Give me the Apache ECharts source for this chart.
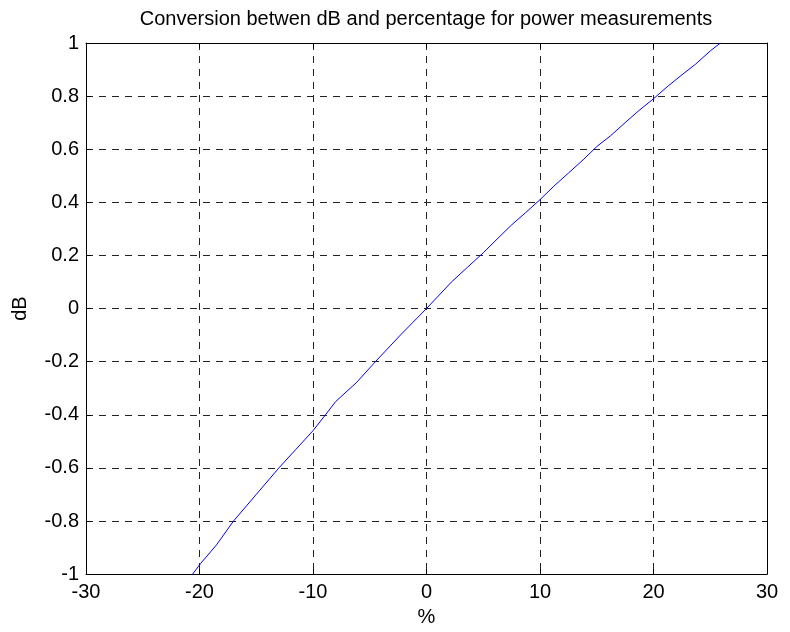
<!DOCTYPE html>
<html>
<head>
<meta charset="utf-8">
<script src="https://cdn.jsdelivr.net/npm/echarts@6/dist/echarts.min.js"></script>
<style>
html,body{margin:0;padding:0;background:#fff;}
#chart{width:790px;height:632px;}
</style>
</head>
<body>
<div id="chart"></div>
<script>
// Data
var percent = [-20.6, -19.9, -18.5, -17.0, -15.0, -13.0, -11.5, -10.0, -8.9, -8.0, -6.2, -4.5, -2.3, 0, 2.2, 3.6, 5.0, 6.3, 7.5, 8.7, 10.0, 11.2, 12.5, 13.8, 15.0, 16.2, 17.5, 18.7, 20.0, 21.2, 22.5, 23.7, 25.0, 25.9];
var dB      = [-1.00, -0.96, -0.89, -0.80, -0.70, -0.60, -0.53, -0.46, -0.40, -0.35, -0.28, -0.20, -0.10, 0.00, 0.10, 0.155, 0.21, 0.265, 0.315, 0.36, 0.41, 0.46, 0.51, 0.56, 0.61, 0.65, 0.70, 0.745, 0.79, 0.835, 0.88, 0.92, 0.97, 1.00];
var xTicks = [-30, -20, -10, 0, 10, 20, 30];
var yTicks = [-1, -0.8, -0.6, -0.4, -0.2, 0, 0.2, 0.4, 0.6, 0.8, 1];
var titleText = 'Conversion betwen dB and percentage for power measurements';
var xName = '%';
var yName = 'dB';

var pts = percent.map(function (p, i) { return [p, dB[i]]; });
var font = 'Liberation Sans, Arial, sans-serif';
var fs = 20;
var fmt = function (v) { return String(Number(v.toFixed(1))); };
var gridStyle = { show: true, lineStyle: { color: '#222', width: 1, type: [7, 6] } };

var chart = echarts.init(document.getElementById('chart'), null, { renderer: 'canvas' });
chart.setOption({
  animation: false,
  backgroundColor: '#fff',
  title: {
    text: titleText,
    left: 426, top: 9, textAlign: 'center', padding: 0,
    textStyle: { fontFamily: font, fontSize: fs, fontWeight: 'normal', color: '#000' }
  },
  grid: { left: 86, right: 23, top: 43, bottom: 51, containLabel: false },
  xAxis: [{
    type: 'value', min: xTicks[0], max: xTicks[xTicks.length - 1], interval: 10,
    name: xName, nameLocation: 'middle', nameGap: 31,
    nameTextStyle: { fontFamily: font, fontSize: fs, color: '#000' },
    axisLine: { onZero: false, lineStyle: { color: '#000', width: 1 } },
    axisTick: { inside: true, length: 5, lineStyle: { color: '#000' } },
    axisLabel: { fontFamily: font, fontSize: fs, color: '#000', margin: 8, formatter: fmt },
    splitLine: gridStyle
  }, {
    type: 'value', position: 'top', min: xTicks[0], max: xTicks[xTicks.length - 1], interval: 10,
    axisLine: { onZero: false, lineStyle: { color: '#000', width: 1 } },
    axisTick: { inside: true, length: 5, lineStyle: { color: '#000' } },
    axisLabel: { show: false }, splitLine: { show: false }
  }],
  yAxis: [{
    type: 'value', min: yTicks[0], max: yTicks[yTicks.length - 1], interval: 0.2,
    name: yName, nameLocation: 'middle', nameGap: 56, nameRotate: 90,
    nameTextStyle: { fontFamily: font, fontSize: fs, color: '#000' },
    axisLine: { show: true, onZero: false, lineStyle: { color: '#000', width: 1 } },
    axisTick: { show: true, inside: true, length: 5, lineStyle: { color: '#000' } },
    axisLabel: { fontFamily: font, fontSize: fs, color: '#000', margin: 7, formatter: fmt },
    splitLine: gridStyle
  }, {
    type: 'value', position: 'right', min: yTicks[0], max: yTicks[yTicks.length - 1], interval: 0.2,
    axisLine: { show: true, onZero: false, lineStyle: { color: '#000', width: 1 } },
    axisTick: { show: true, inside: true, length: 5, lineStyle: { color: '#000' } },
    axisLabel: { show: false }, splitLine: { show: false }
  }],
  series: [{
    type: 'line', data: pts, xAxisIndex: 0, yAxisIndex: 0,
    showSymbol: false, smooth: false,
    lineStyle: { color: '#0000ff', width: 1 },
    clip: true
  }]
});
</script>
</body>
</html>
